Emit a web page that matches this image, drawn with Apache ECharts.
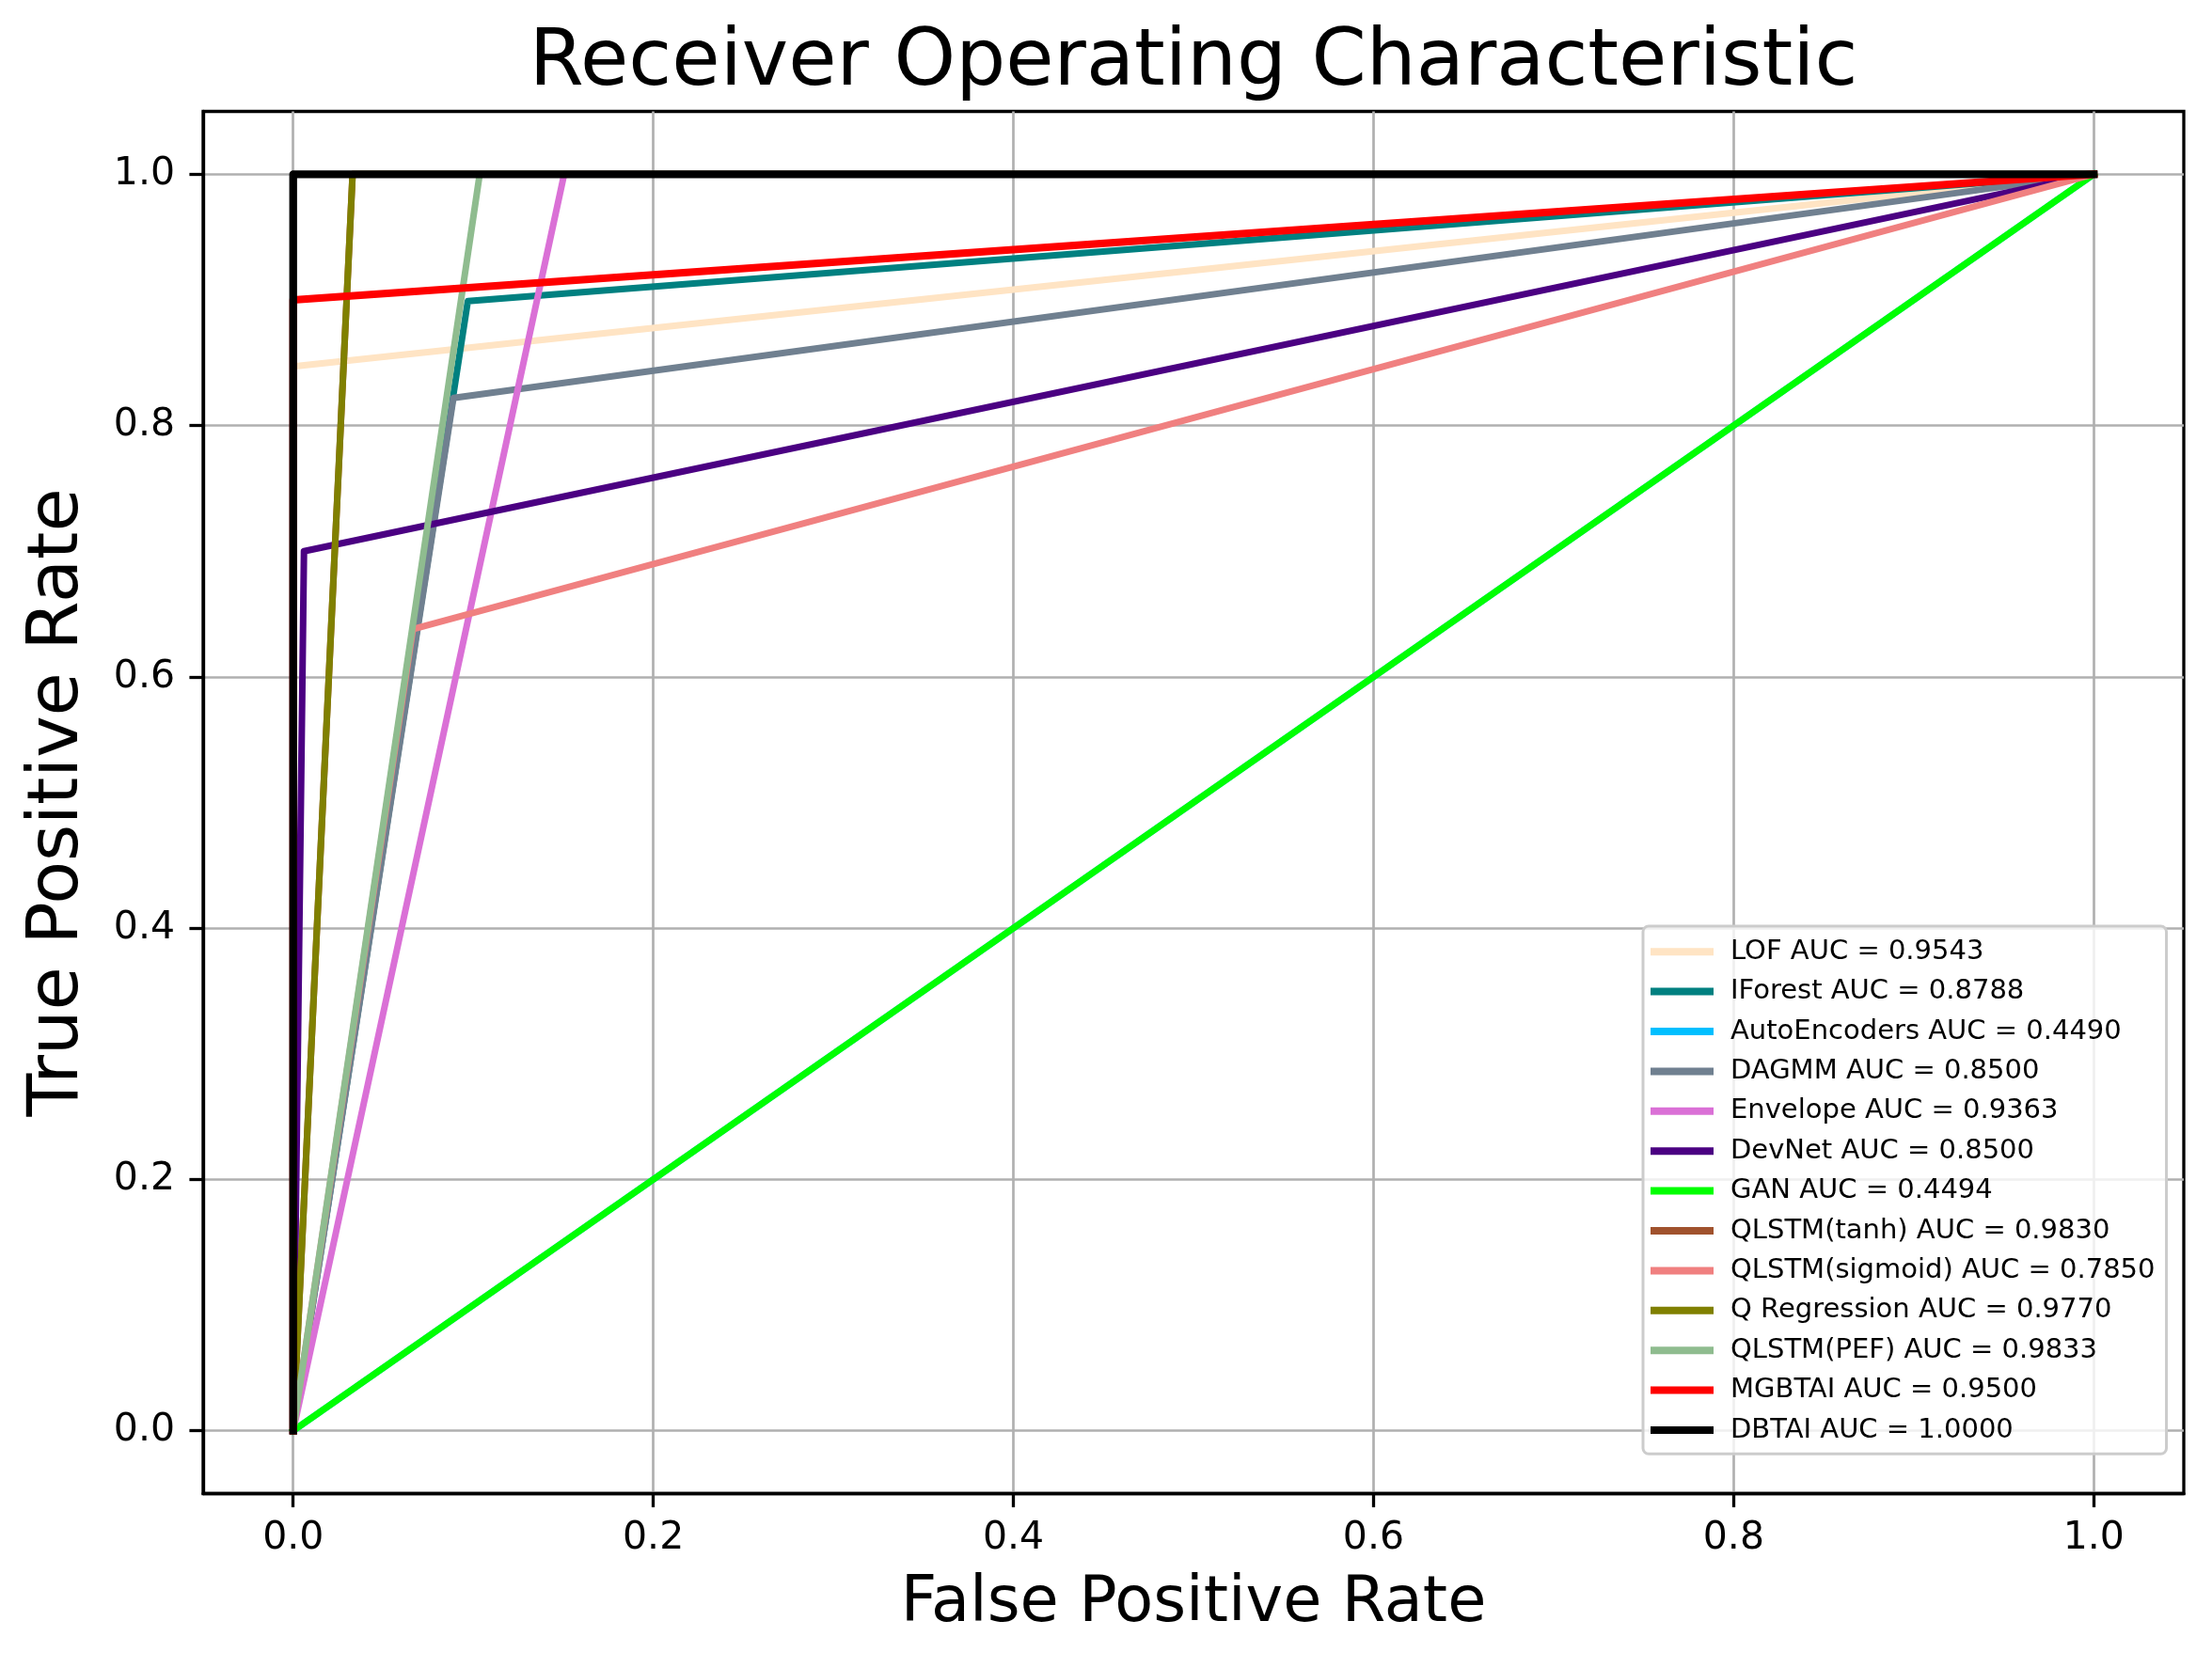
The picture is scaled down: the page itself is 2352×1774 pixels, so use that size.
<!DOCTYPE html>
<html lang="en">
<head>
    <meta charset="UTF-8">
    <title>Receiver Operating Characteristic</title>
    <script src="https://cdn.jsdelivr.net/npm/echarts@6/dist/echarts.min.js"></script>
    <style>
        html, body { margin: 0; padding: 0; background: #fff; }
        #chart-container { width: 2352px; height: 1774px; }
    </style>
</head>
<body>
    <div id="chart-container"></div>
    <script>
        // model names and AUC values as printed in the legend
        var models = ['LOF', 'IForest', 'AutoEncoders', 'DAGMM', 'Envelope', 'DevNet', 'GAN',
                      'QLSTM(tanh)', 'QLSTM(sigmoid)', 'Q Regression', 'QLSTM(PEF)', 'MGBTAI', 'DBTAI'];
        var aucs = ['0.9543', '0.8788', '0.4490', '0.8500', '0.9363', '0.8500', '0.4494',
                    '0.9830', '0.7850', '0.9770', '0.9833', '0.9500', '1.0000'];

        // ROC points (false positive rate / true positive rate)
        var fpr = [
            [0, 0, 1],          // LOF
            [0, 0.097, 1],      // IForest
            [0, 1],             // AutoEncoders (hidden under GAN)
            [0, 0.089, 1],      // DAGMM
            [0, 0.1505, 1],     // Envelope
            [0, 0.006, 1],      // DevNet
            [0, 1],             // GAN
            [0, 0.033, 1],      // QLSTM(tanh) (hidden under Q Regression)
            [0, 0.0665, 1],     // QLSTM(sigmoid)
            [0, 0.033, 1],      // Q Regression
            [0, 0.1036, 1],     // QLSTM(PEF)
            [0, 0, 1],          // MGBTAI
            [0, 0, 1]           // DBTAI
        ];
        var tpr = [
            [0, 0.847, 1],
            [0, 0.899, 1],
            [0, 1],
            [0, 0.822, 1],
            [0, 1, 1],
            [0, 0.7, 1],
            [0, 1],
            [0, 1, 1],
            [0, 0.638, 1],
            [0, 1, 1],
            [0, 1, 1],
            [0, 0.9, 1],
            [0, 1, 1]
        ];

        var tickValues = [0, 0.2, 0.4, 0.6, 0.8, 1.0];

        var colors = ['#ffe4c4', '#008080', '#00bfff', '#708090', '#da70d6', '#4b0082', '#00ff00',
                      '#a0522d', '#f08080', '#808000', '#8fbc8f', '#ff0000', '#000000'];
        var widths = [7, 7, 7, 7, 7, 7, 7, 7, 7, 7, 7, 8, 8.3];

        var font = 'DejaVu Sans';

        var series = models.map(function (m, i) {
            return {
                name: m + ' AUC = ' + aucs[i],
                type: 'line',
                data: fpr[i].map(function (x, j) { return [x, tpr[i][j]]; }),
                showSymbol: false,
                symbol: 'none',
                color: colors[i],
                lineStyle: { color: colors[i], width: widths[i], cap: 'square', join: 'round' },
                emphasis: { disabled: true }
            };
        });

        function axis(name, isX) {
            return {
                type: 'value',
                min: -0.05,
                max: 1.05,
                name: name,
                nameLocation: 'middle',
                nameGap: isX ? 85 : 116,
                nameRotate: isX ? 0 : 90,
                nameTextStyle: { fontFamily: font, fontSize: isX ? 67 : 75, color: '#000' },
                axisLine: { show: true, onZero: false, lineStyle: { color: '#000', width: 3.3 } },
                axisTick: {
                    show: true, inside: false, length: 14.6, customValues: tickValues,
                    lineStyle: { color: '#000', width: 3.3 }
                },
                axisLabel: {
                    show: true, customValues: tickValues, margin: isX ? 27 : 30,
                    fontFamily: font, fontSize: 41, color: '#000',
                    formatter: function (v) { return v.toFixed(1); }
                },
                splitLine: { show: true, lineStyle: { color: '#b0b0b0', width: 2.7 } }
            };
        }

        var chart = echarts.init(document.getElementById('chart-container'), null, { renderer: 'canvas' });
        chart.setOption({
            animation: false,
            backgroundColor: '#fff',
            title: {
                text: 'Receiver Operating Characteristic',
                left: 1269,
                top: 26,
                padding: 0,
                textAlign: 'center',
                textStyle: { fontFamily: font, fontSize: 83.5, fontWeight: 'normal', color: '#000' }
            },
            grid: {
                left: 216, right: 30, top: 118.5, bottom: 185.5,
                show: true, borderColor: '#000', borderWidth: 3.3,
                outerBoundsMode: 'none'
            },
            xAxis: axis('False Positive Rate', true),
            yAxis: axis('True Positive Rate', false),
            legend: {
                orient: 'vertical',
                left: 1747,
                top: 985,
                padding: [6, 12, 4, 8],
                itemGap: 0,
                itemWidth: 67,
                itemHeight: 8,
                icon: 'rect',
                selectedMode: false,
                backgroundColor: 'rgba(255,255,255,0.8)',
                borderColor: '#cccccc',
                borderWidth: 3,
                borderRadius: 6,
                textStyle: {
                    fontFamily: font, fontSize: 29, color: '#000',
                    lineHeight: 42.4, padding: [0, 0, 0, 13]
                },
                data: series.map(function (s) { return s.name; })
            },
            series: series
        });
    </script>
</body>
</html>
